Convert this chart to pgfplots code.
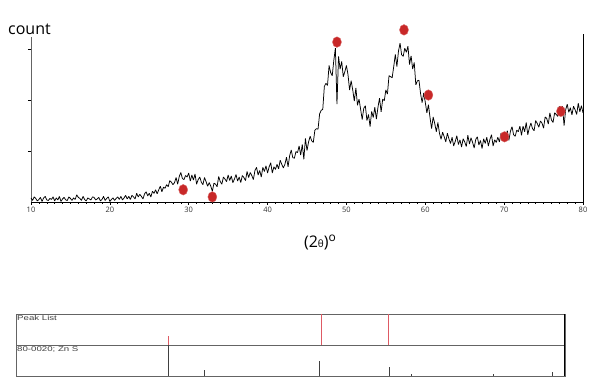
\documentclass[border=0pt]{standalone}
\usepackage{pgfplots}
\pgfplotsset{compat=1.18}
\usepackage{graphicx}
\usepackage{fontspec}
\setmainfont{Open Sans}
\newfontfamily\arialfont{Liberation Sans}
\definecolor{dotred}{RGB}{200,40,40}
\definecolor{pkred}{RGB}{222,90,100}
\definecolor{boxgray}{RGB}{100,100,100}
\begin{document}
\begin{tikzpicture}
\useasboundingbox (0,0) rectangle (602pt,387pt);
% ---------- main pattern ----------
\begin{axis}[
  at={(31pt,185pt)}, anchor=south west,
  scale only axis, width=552pt, height=165pt,
  xmin=10, xmax=80, ymin=0, ymax=324,
  clip=false,
  axis x line*=bottom, axis y line*=left,
  x axis line style={-, black, line width=0.8pt},
  y axis line style={-, boxgray, line width=0.8pt},
  xtick={10,20,...,80}, minor x tick num=9,
  ytick={100,200,300}, yticklabels={},
  tick align=outside,
  major tick length=3pt, minor tick length=2pt,
  every tick/.style={black, line width=0.5pt},
  /pgf/number format/assume math mode=true,
  xticklabel style={font=\fontsize{7.5}{8}\selectfont, text=black!80, yshift=1pt},
]
\addplot[black, line width=0.75pt, mark=none, line join=bevel] coordinates {
(10.0,8)(10.2,3)(10.4,10)(10.6,7)(10.8,2)(11.0,5)(11.2,9)(11.4,1)(11.6,8)(11.8,11)
(12.0,4)(12.2,3)(12.4,7)(12.6,5)(12.8,10)(13.0,2)(13.2,8)(13.4,4)(13.6,11)(13.8,1)
(14.0,6)(14.2,9)(14.4,4)(14.6,3)(14.8,10)(15.0,7)(15.2,3)(15.4,8)(15.6,5)(15.8,14)
(16.0,9)(16.2,7)(16.4,3)(16.6,11)(16.8,5)(17.0,2)(17.2,8)(17.4,6)(17.6,4)(17.8,10)
(18.0,9)(18.2,4)(18.4,6)(18.6,9)(18.8,2)(19.0,5)(19.2,11)(19.4,3)(19.6,7)(19.8,10)
(20.0,1)(20.2,5)(20.4,8)(20.6,3)(20.8,7)(21.0,10)(21.2,5)(21.4,11)(21.6,4)(21.8,8)
(22.0,13)(22.2,6)(22.4,11)(22.6,5)(22.8,13)(23.0,10)(23.2,6)(23.4,17)(23.6,10)(23.8,15)
(24.0,11)(24.2,6)(24.4,16)(24.6,20)(24.8,12)(25.0,17)(25.2,10)(25.4,21)(25.6,17)(25.8,24)
(26.0,16)(26.2,24)(26.4,31)(26.6,20)(26.8,29)(27.0,27)(27.2,34)(27.4,30)(27.6,42)(27.8,39)
(28.0,34)(28.2,38)(28.4,48)(28.6,35)(28.8,50)(29.0,58)(29.2,46)(29.4,44)(29.6,52)(29.8,49)
(30.0,57)(30.2,41)(30.4,53)(30.6,43)(30.8,55)(31.0,35)(31.2,44)(31.4,49)(31.6,39)(31.8,34)
(32.0,48)(32.2,40)(32.4,31)(32.6,38)(32.8,31)(33.0,21)(33.2,37)(33.4,35)(33.6,30)(33.8,50)
(34.0,40)(34.2,35)(34.4,49)(34.6,45)(34.8,40)(35.0,53)(35.2,42)(35.4,51)(35.6,38)(35.8,45)
(36.0,54)(36.2,41)(36.4,49)(36.6,38)(36.8,52)(37.0,48)(37.2,42)(37.4,60)(37.6,48)(37.8,58)
(38.0,52)(38.2,44)(38.4,62)(38.6,68)(38.8,53)(39.0,62)(39.2,49)(39.4,68)(39.6,60)(39.8,71)
(40.0,57)(40.2,69)(40.4,77)(40.6,57)(40.8,69)(41.0,64)(41.2,74)(41.4,65)(41.6,82)(41.8,74)
(42.0,67)(42.2,74)(42.4,88)(42.6,69)(42.8,91)(43.0,102)(43.2,87)(43.4,86)(43.6,99)(43.8,97)
(44.0,110)(44.2,92)(44.4,113)(44.6,84)(44.8,125)(45.0,101)(45.2,118)(45.4,129)(45.6,120)(45.8,117)
(46.0,141)(46.2,144)(46.4,143)(46.6,173)(46.8,180)(47.0,182)(47.2,227)(47.4,233)(47.6,229)(47.8,268)
(48.0,254)(48.2,248)(48.4,278)(48.6,302)(48.8,192)(49.0,286)(49.2,261)(49.4,276)(49.6,246)(49.8,256)
(50.0,268)(50.2,250)(50.4,220)(50.6,238)(50.8,220)(51.0,198)(51.2,224)(51.4,190)(51.6,202)(51.8,182)
(52.0,162)(52.2,184)(52.4,189)(52.6,160)(52.8,172)(53.0,148)(53.2,178)(53.4,166)(53.6,186)(53.8,163)
(54.0,186)(54.2,204)(54.4,177)(54.6,202)(54.8,199)(55.0,220)(55.2,212)(55.4,248)(55.6,246)(55.8,244)
(56.0,266)(56.2,290)(56.4,266)(56.6,296)(56.8,312)(57.0,289)(57.2,286)(57.4,302)(57.6,294)(57.8,306)
(58.0,270)(58.2,287)(58.4,261)(58.6,274)(58.8,230)(59.0,238)(59.2,239)(59.4,213)(59.6,195)(59.8,214)
(60.0,196)(60.2,175)(60.4,191)(60.6,166)(60.8,144)(61.0,167)(61.2,154)(61.4,138)(61.6,156)(61.8,135)
(62.0,123)(62.2,137)(62.4,128)(62.6,118)(62.8,135)(63.0,124)(63.2,115)(63.4,127)(63.6,110)(63.8,119)
(64.0,130)(64.2,113)(64.4,122)(64.6,108)(64.8,124)(65.0,118)(65.2,109)(65.4,131)(65.6,114)(65.8,126)
(66.0,117)(66.2,106)(66.4,123)(66.6,128)(66.8,112)(67.0,121)(67.2,105)(67.4,124)(67.6,115)(67.8,127)
(68.0,110)(68.2,123)(68.4,132)(68.6,110)(68.8,122)(69.0,117)(69.2,127)(69.4,118)(69.6,135)(69.8,127)
(70.0,119)(70.2,128)(70.4,140)(70.6,121)(70.8,139)(71.0,148)(71.2,132)(71.4,129)(71.6,141)(71.8,138)
(72.0,149)(72.2,131)(72.4,149)(72.6,138)(72.8,156)(73.0,132)(73.2,146)(73.4,155)(73.6,144)(73.8,140)
(74.0,160)(74.2,154)(74.4,147)(74.6,159)(74.8,155)(75.0,145)(75.2,167)(75.4,164)(75.6,153)(75.8,175)
(76.0,161)(76.2,156)(76.4,175)(76.6,172)(76.8,168)(77.0,188)(77.2,175)(77.4,188)(77.6,150)(77.8,181)
(78.0,192)(78.2,176)(78.4,185)(78.6,171)(78.8,188)(79.0,181)(79.2,172)(79.4,194)(79.6,177)(79.8,189)
(80.0,175)
};
\addplot[only marks, mark=*, mark size=5.3pt, color=dotred,
  mark options={xscale=0.85, fill=dotred, draw=dotred!70!white}] coordinates {
(29.3,24)(33.0,10)(48.8,314)(57.3,338)(60.4,210)(70.05,128)(77.2,178)
};
\draw[black, line width=0.8pt] (axis cs:80,0) -- (axis cs:80,330);
\end{axis}
\node[anchor=base west, inner sep=0pt, font=\fontsize{16}{18}\selectfont] at (8pt,352pt) {count};
\node[anchor=center, inner sep=0pt] at (320pt,144pt)
  {\fontsize{16}{18}\selectfont (2{\fontsize{10}{11}\selectfont θ})\raisebox{6pt}{\fontsize{12}{13}\selectfont o}};
% ---------- peak list panel ----------
\begin{axis}[
  at={(16pt,42pt)}, anchor=south west,
  scale only axis, width=549pt, height=31pt,
  xmin=9.4, xmax=78.4, ymin=0, ymax=1,
  xtick=\empty, ytick=\empty,
  axis line style={boxgray, line width=0.6pt},
  clip=false,
]
\addplot[ycomb, pkred, line width=0.7pt, mark=none] coordinates {
(28.6,0.29)(47.8,1)(56.2,1)
};
\node[anchor=north west, inner sep=1pt, text=black!75] at (axis description cs:0,1)
  {\scalebox{1.38}[1]{\arialfont\fontsize{7}{8}\selectfont Peak List}};
\end{axis}
% ---------- reference pattern panel ----------
\begin{axis}[
  at={(16pt,11pt)}, anchor=south west,
  scale only axis, width=549pt, height=31pt,
  xmin=9.4, xmax=78.4, ymin=0, ymax=1,
  xtick=\empty, ytick=\empty,
  axis line style={boxgray, line width=0.6pt},
  clip=false,
]
\addplot[ycomb, black!75, line width=0.7pt, mark=none] coordinates {
(28.56,1)(33.1,0.2)(47.5,0.48)(56.3,0.3)(59.1,0.06)(69.4,0.06)(76.8,0.13)
};
\node[anchor=north west, inner sep=1pt, text=black!75] at (axis description cs:0,1)
  {\scalebox{1.38}[1]{\arialfont\fontsize{7}{8}\selectfont 80-0020; Zn S}};
\draw[black, line width=1pt] (axis description cs:1,0) -- (axis description cs:1,2);
\end{axis}
\end{tikzpicture}
\end{document}
